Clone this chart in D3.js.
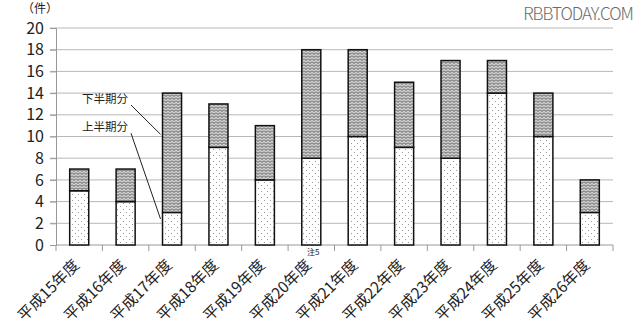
<!DOCTYPE html>
<html>
<head>
<meta charset="utf-8">
<script src="https://cdn.jsdelivr.net/npm/d3@7"></script>
<style>
 body { margin: 0; background: #fff; }
 text { font-family: "Noto Sans CJK JP", "Noto Sans", sans-serif; fill: #222; }
</style>
</head>
<body>
<svg id="chart" width="640" height="333"></svg>
<script>
const margin = {top: 28, right: 27, bottom: 88, left: 56};

// 年度ごとの件数
var years = ["平成15年度","平成16年度","平成17年度","平成18年度","平成19年度","平成20年度",
             "平成21年度","平成22年度","平成23年度","平成24年度","平成25年度","平成26年度"];
var firstHalf  = [5, 4, 3, 9, 6, 8, 10, 9, 8, 14, 10, 3];
var secondHalf = [2, 3, 11, 4, 5, 10, 8, 6, 9, 3, 4, 3];
var yTicks = [0, 2, 4, 6, 8, 10, 12, 14, 16, 18, 20];

var svg = d3.select("#chart");
var width = +svg.attr("width") - margin.left - margin.right;
var height = +svg.attr("height") - margin.top - margin.bottom;

// patterns
var defs = svg.append("defs");
var dots = defs.append("pattern")
    .attr("id", "dots").attr("patternUnits", "userSpaceOnUse")
    .attr("width", 6).attr("height", 6);
dots.append("rect").attr("width", 6).attr("height", 6).attr("fill", "#fff");
dots.append("rect").attr("x", 1).attr("y", 1).attr("width", 1).attr("height", 1).attr("fill", "#999");
dots.append("rect").attr("x", 4).attr("y", 4).attr("width", 1).attr("height", 1).attr("fill", "#999");

var zig = defs.append("pattern")
    .attr("id", "zig").attr("patternUnits", "userSpaceOnUse")
    .attr("width", 4).attr("height", 3);
zig.append("rect").attr("width", 4).attr("height", 3).attr("fill", "#d0d0d0");
zig.append("path").attr("d", "M0,0.5 L2,2.5 L4,0.5")
    .attr("fill", "none").attr("stroke", "#444").attr("stroke-width", 0.9);

var g = svg.append("g").attr("transform", `translate(${margin.left}, ${margin.top})`);

var x = d3.scaleBand().domain(years).range([0, width]).paddingInner(0.59).paddingOuter(0.295);
var y = d3.scaleLinear().domain([0, 20]).range([height, 0]);

// gridlines
g.append("g").selectAll("line")
  .data(yTicks.slice(1))
  .join("line")
    .attr("x1", -6).attr("x2", width)
    .attr("y1", d => y(d)).attr("y2", d => y(d))
    .attr("stroke", "#b8b8b8").attr("stroke-width", 1);

// y axis
var yAxis = g.append("g")
    .call(d3.axisLeft(y).tickValues(yTicks).tickSize(6).tickPadding(6));
yAxis.select(".domain").attr("stroke", "#999");
yAxis.selectAll(".tick line").attr("stroke", "#999");
yAxis.selectAll("text").attr("font-size", 16).attr("fill", "#222");

// x axis
var bounds = d3.range(years.length + 1).map(i => i * width / years.length);
var xAxis = g.append("g").attr("transform", `translate(0, ${height})`);
xAxis.append("line").attr("x1", 0).attr("x2", width).attr("stroke", "#999");
xAxis.selectAll(".xt").data(bounds).join("line")
    .attr("class", "xt")
    .attr("x1", d => d).attr("x2", d => d)
    .attr("y1", 0).attr("y2", 6)
    .attr("stroke", "#999");
xAxis.selectAll(".xl").data(years).join("text")
    .attr("class", "xl")
    .attr("text-anchor", "end")
    .attr("font-size", 15.5)
    .attr("transform", d => `translate(${x(d) + x.bandwidth() / 2 + 1}, 21) rotate(-45)`)
    .text(d => d);

// bars
var bars = g.append("g");
bars.selectAll(".lower").data(years).join("rect")
    .attr("class", "lower")
    .attr("x", d => x(d))
    .attr("width", x.bandwidth())
    .attr("y", (d, i) => y(firstHalf[i]))
    .attr("height", (d, i) => y(0) - y(firstHalf[i]))
    .attr("fill", "url(#dots)")
    .attr("stroke", "#111").attr("stroke-width", 1.5);
bars.selectAll(".upper").data(years).join("rect")
    .attr("class", "upper")
    .attr("x", d => x(d))
    .attr("width", x.bandwidth())
    .attr("y", (d, i) => y(firstHalf[i] + secondHalf[i]))
    .attr("height", (d, i) => y(firstHalf[i]) - y(firstHalf[i] + secondHalf[i]))
    .attr("fill", "url(#zig)")
    .attr("stroke", "#111").attr("stroke-width", 1.5);

// 注5
g.append("text")
    .attr("x", x(years[5]) + x.bandwidth() / 2 + 2)
    .attr("y", height + 9.5)
    .attr("text-anchor", "middle")
    .attr("font-size", 8)
    .text("注5");

// annotations
var k = years[2];
g.append("text").attr("x", 26).attr("y", y(13.1)).attr("font-size", 11.5).text("下半期分");
g.append("text").attr("x", 26).attr("y", y(10.5)).attr("font-size", 11.5).text("上半期分");
g.append("line")
    .attr("x1", 75).attr("y1", y(12.9))
    .attr("x2", x(k) - 2).attr("y2", y(10.2))
    .attr("stroke", "#222");
g.append("line")
    .attr("x1", 75).attr("y1", y(10.3))
    .attr("x2", x(k) - 2).attr("y2", y(2.4))
    .attr("stroke", "#222");

// unit label
svg.append("text").attr("x", 22).attr("y", 13).attr("font-size", 12).text("（件）");

// watermark
svg.append("text")
    .attr("x", 633).attr("y", 20)
    .attr("text-anchor", "end")
    .attr("font-size", 17)
    .attr("font-family", "DejaVu Sans")
    .style("font-weight", 200)
    .style("fill", "#6a6a6a")
    .attr("letter-spacing", -1)
    .text("RBBTODAY.COM");
</script>
</body>
</html>
